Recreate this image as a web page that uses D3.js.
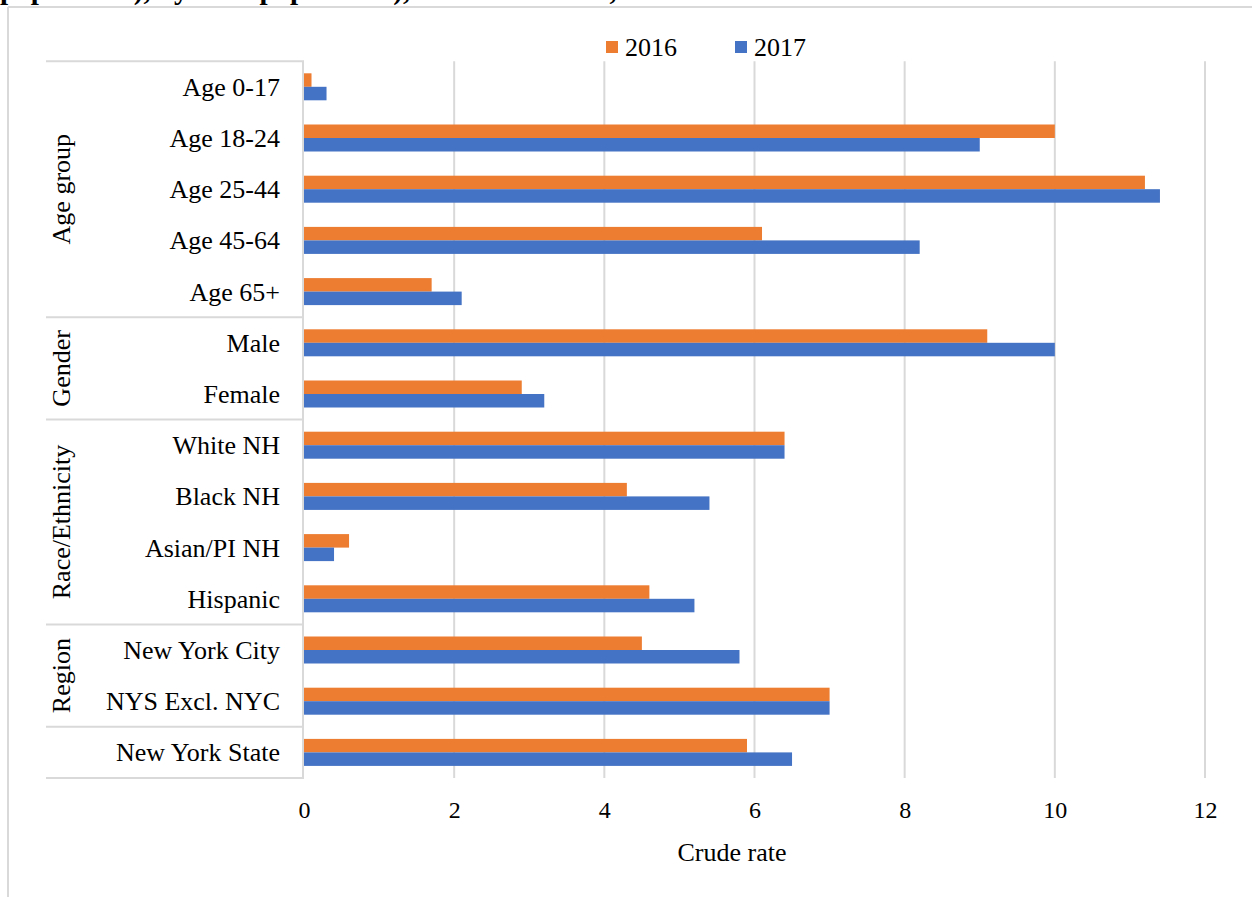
<!DOCTYPE html>
<html>
<head>
<meta charset="utf-8">
<script src="https://cdn.jsdelivr.net/npm/d3@7"></script>
<style>
  html, body { margin: 0; padding: 0; background: #fff; }
  svg { display: block; }
  svg text { font-family: "Liberation Serif", "Times New Roman", serif !important; fill: #000; }
</style>
</head>
<body>
<svg id="chart" width="1252" height="897"></svg>
<script>
// ---- data ----
const categories = ["Age 0-17", "Age 18-24", "Age 25-44", "Age 45-64", "Age 65+",
  "Male", "Female", "White NH", "Black NH", "Asian/PI NH", "Hispanic",
  "New York City", "NYS Excl. NYC", "New York State"];
const values2016 = [0.1, 10.0, 11.2, 6.1, 1.7, 9.1, 2.9, 6.4, 4.3, 0.6, 4.6, 4.5, 7.0, 5.9];
const values2017 = [0.3, 9.0, 11.4, 8.2, 2.1, 10.0, 3.2, 6.4, 5.4, 0.4, 5.2, 5.8, 7.0, 6.5];
const seriesNames = ["2016", "2017"];
const seriesColors = ["#ED7D31", "#4472C4"];
const groups = [
  { name: "Age group", first: "Age 0-17", last: "Age 65+" },
  { name: "Gender", first: "Male", last: "Female" },
  { name: "Race/Ethnicity", first: "White NH", last: "Hispanic" },
  { name: "Region", first: "New York City", last: "NYS Excl. NYC" },
  { name: "", first: "New York State", last: "New York State" }
];
const xTicks = [0, 2, 4, 6, 8, 10, 12];
const xTitle = "Crude rate";
const clippedTitle = "population), by total population), New York State, 2016-2017";

// ---- layout ----
const svg = d3.select("#chart");
const pLeft = 304, pRight = 1205, pTop = 61.2, pBottom = 778;
const tableLeft = 46;
const grid = "#d9d9d9";
const serif = "'Liberation Serif', 'Times New Roman', serif";

const x = d3.scaleLinear().domain([0, 12]).range([pLeft, pRight]);
const y = d3.scaleBand().domain(categories).range([pTop, pBottom]).padding(0);
const barH = 13.5;
const ySub = d3.scaleBand().domain(seriesNames)
  .range([y.bandwidth() / 2 - barH, y.bandwidth() / 2 + barH]).padding(0);

// outer frame
svg.append("line").attr("x1", 8).attr("x2", 8).attr("y1", 7).attr("y2", 897)
  .attr("stroke", grid).attr("stroke-width", 2);
svg.append("line").attr("x1", 8).attr("x2", 1252).attr("y1", 7).attr("y2", 7)
  .attr("stroke", grid).attr("stroke-width", 2);

// heading above the frame (cut off by the page top, as in the reference)
svg.append("text").attr("x", 0).attr("y", -1)
  .style("font-family", serif)
  .style("font-weight", "bold").style("font-size", "29px").text(clippedTitle);

// gridlines
svg.append("g").selectAll("line").data(xTicks.filter(d => d > 0)).join("line")
  .attr("x1", d => x(d)).attr("x2", d => x(d))
  .attr("y1", pTop).attr("y2", pBottom)
  .attr("stroke", grid).attr("stroke-width", 2);

// bars
const rows = categories.map((c, i) => ({ cat: c, vals: [values2016[i], values2017[i]] }));
const rowG = svg.append("g").selectAll("g").data(rows).join("g")
  .attr("transform", d => `translate(0,${y(d.cat)})`);
rowG.selectAll("rect").data(d => d.vals.map((v, j) => ({ v, s: seriesNames[j], j })))
  .join("rect")
  .attr("x", x(0))
  .attr("y", d => ySub(d.s))
  .attr("width", d => x(d.v) - x(0))
  .attr("height", ySub.bandwidth())
  .attr("fill", d => seriesColors[d.j]);

// category axis line and table lines
svg.append("line").attr("x1", pLeft - 1).attr("x2", pLeft - 1).attr("y1", pTop).attr("y2", pBottom)
  .attr("stroke", grid).attr("stroke-width", 2);
const boundaries = [pTop].concat(groups.map(g => y(g.last) + y.bandwidth()));
svg.append("g").selectAll("line").data(boundaries).join("line")
  .attr("x1", tableLeft).attr("x2", pLeft)
  .attr("y1", d => d).attr("y2", d => d)
  .attr("stroke", grid).attr("stroke-width", 2);

// category labels
svg.append("g").selectAll("text").data(categories).join("text")
  .attr("x", 280)
  .attr("y", d => y(d) + y.bandwidth() / 2 + 9)
  .attr("text-anchor", "end")
  .style("font-family", serif)
  .style("font-size", "26px")
  .text(d => d);

// group labels
svg.append("g").selectAll("text").data(groups.filter(g => g.name)).join("text")
  .attr("transform", g => {
    const cy = (y(g.first) + y(g.last) + y.bandwidth()) / 2;
    return `translate(70,${cy}) rotate(-90)`;
  })
  .attr("text-anchor", "middle")
  .style("font-family", serif)
  .style("font-size", "26px")
  .text(g => g.name);

// x axis
const xAxis = d3.axisBottom(x).tickValues(xTicks).tickSize(0).tickPadding(0).tickFormat(d3.format("d"));
const ax = svg.append("g").attr("transform", `translate(0,${pBottom})`).call(xAxis)
  .attr("font-family", null).attr("font-size", null);
ax.select(".domain").remove();
ax.selectAll("text").attr("dy", null).attr("y", 40)
  .style("font-size", "24px").style("font-family", serif).attr("fill", "#000");

svg.append("text").attr("x", 732).attr("y", 861)
  .attr("text-anchor", "middle")
  .style("font-family", serif).style("font-size", "26px").text(xTitle);

// legend
const legend = svg.append("g");
const legendX = [606, 735];
seriesNames.forEach((s, i) => {
  legend.append("rect").attr("x", legendX[i]).attr("y", 41).attr("width", 12).attr("height", 12)
    .attr("fill", seriesColors[i]);
  legend.append("text").attr("x", legendX[i] + 19).attr("y", 56)
    .style("font-family", serif).style("font-size", "26px").text(s);
});
</script>
</body>
</html>
